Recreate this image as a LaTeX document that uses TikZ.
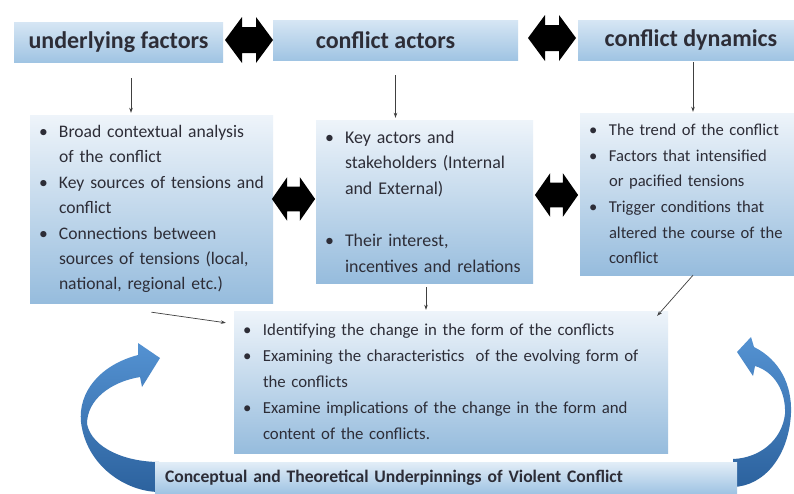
\documentclass[tikz,border=0pt]{standalone}
\usepackage{fontspec}
\setmainfont{Carlito}
\usetikzlibrary{arrows.meta}

\definecolor{inkgrey}{RGB}{45,45,55}
\definecolor{paletop}{RGB}{238,244,250}
\definecolor{palebot}{RGB}{150,188,221}
\definecolor{headtop}{RGB}{214,230,244}
\definecolor{headbot}{RGB}{160,196,227}
\definecolor{swirltop}{RGB}{84,146,210}
\definecolor{swirlbot}{RGB}{44,98,158}

% bullet and hanging indent for the list lines
\newcommand{\bitem}{\makebox[21pt][l]{\hspace{1pt}\textbullet}}
\newcommand{\bcont}{\hspace*{21pt}}

\tikzset{
  head/.style={rectangle, top color=headtop, bottom color=headbot, inner sep=0pt,
    minimum height=40pt, text=inkgrey, font=\fontsize{24}{24}\selectfont\bfseries},
  panel/.style={rectangle, top color=paletop, bottom color=palebot, inner xsep=8pt,
    inner ysep=0pt, align=left, text=inkgrey, font=\fontsize{17}{25.5}\selectfont},
  link/.style={draw=black!75, line width=0.7pt, -{Stealth[length=5pt, width=3.5pt]}},
  bidir/.pic={
    \fill[black] (-24,0) -- (-7,-23) -- (-7,-13) -- (7,-13) -- (7,-23) -- (24,0)
      -- (7,23) -- (7,13) -- (-7,13) -- (-7,23) -- cycle;
  }
}

\begin{document}
\begin{tikzpicture}[x=1pt, y=-1pt]
  \useasboundingbox[fill=white] (0,0) rectangle (794,493);

  % headings
  \node[head, minimum width=209pt] (uf) at (118.5,42) {underlying factors};
  \node[head, minimum width=245pt] (ca) at (395.5,40) {\hspace*{-20pt}conflict actors};
  \node[head, minimum width=216pt] (cd) at (686,40) {\hspace*{10pt}conflict dynamics};
  \pic at (249,40) {bidir};
  \pic at (552,38) {bidir};

  % the three analysis boxes
  \node[panel, text width=227pt, minimum height=188pt,
    font=\fontsize{17.6}{25.4}\selectfont] (lb) at (151.5,209) {%
    \bitem Broad contextual analysis\\
    \bcont of the conflict\\
    \bitem Key sources of tensions and\\
    \bcont conflict\\
    \bitem Connections between\\
    \bcont sources of tensions (local,\\
    \bcont national, regional etc.)};
  \node[panel, text width=201pt, minimum height=163pt,
    font=\fontsize{17.9}{25.5}\selectfont] (mb) at (424.5,201.5) {%
    \bitem Key actors and\\
    \bcont stakeholders (Internal\\
    \bcont and External)\\[27pt]
    \bitem Their interest,\\
    \bcont \mbox{incentives and relations}};
  \node[panel, text width=198pt, minimum height=162pt,
    font=\fontsize{16.6}{25.6}\selectfont] (rb) at (687,194) {%
    \bitem The trend of the conflict\\
    \bitem Factors that intensified\\
    \bcont or pacified tensions\\
    \bitem Trigger conditions that\\
    \bcont \mbox{altered the course of the}\\
    \bcont conflict};
  \pic[xscale=0.9, yscale=0.95] at (293.5,199) {bidir};
  \pic[xscale=0.9, yscale=0.95] at (556.5,195) {bidir};

  % form of the conflicts
  \node[panel, text width=418pt, minimum height=142pt,
    font=\fontsize{16.8}{26}\selectfont] (bb) at (451,382) {%
    \bitem Identifying the change in the form of the conflicts\\
    \bitem Examining the characteristics\ \ of the evolving form of\\
    \bcont the conflicts\\
    \bitem Examine implications of the change in the form and\\
    \bcont content of the conflicts.};

  \draw[link, shorten <=16pt, shorten >=2pt] ([xshift=12.5pt]uf.south) -- ([xshift=-20.5pt]lb.north);
  \draw[link, shorten <=15pt, shorten >=2pt] (ca.south) -- (ca.south |- mb.north);
  \draw[link, shorten <=2pt, shorten >=1pt] ([xshift=7pt]cd.south) -- ([xshift=6pt]rb.north);
  \draw[link, shorten <=4pt, shorten >=1pt] ([xshift=1.5pt]mb.south) -- ([xshift=1.5pt]mb.south |- bb.north);
  \draw[link] ([xshift=6pt]rb.south) -- ([xshift=-11pt, yshift=-5pt]bb.north east);
  \draw[link] ([yshift=-9pt]lb.south) -- ([xshift=-8pt, yshift=-12pt]bb.north west);

  % curved arrows round the base
  \shade[top color=swirltop, bottom color=swirlbot]
    (160,358) -- (138,343) -- (138,355)
    .. controls (100,365) and (78,392) .. (81,422)
    .. controls (86,465) and (125,492) .. (160,492)
    -- (160,462)
    .. controls (125,462) and (92,448) .. (87,424)
    .. controls (87,400) and (110,382) .. (140,377)
    -- (142,387) -- cycle;
  \shade[top color=swirltop, bottom color=swirlbot]
    (737,352) -- (751,337) -- (754,347)
    .. controls (780,360) and (792,385) .. (791,413)
    .. controls (789,455) and (765,486) .. (733,487)
    -- (733,459)
    .. controls (760,458) and (782,440) .. (785,414)
    .. controls (786,392) and (775,372) .. (755,366)
    -- (753,376) -- cycle;

  \node[panel, text width=562pt, minimum height=31pt, inner xsep=10pt,
    top color=headtop!70!white, bottom color=headbot,
    font=\fontsize{17.6}{17.6}\selectfont\bfseries] (tb) at (446,477.5)
    {Conceptual and Theoretical Underpinnings of Violent Conflict};
\end{tikzpicture}
\end{document}
